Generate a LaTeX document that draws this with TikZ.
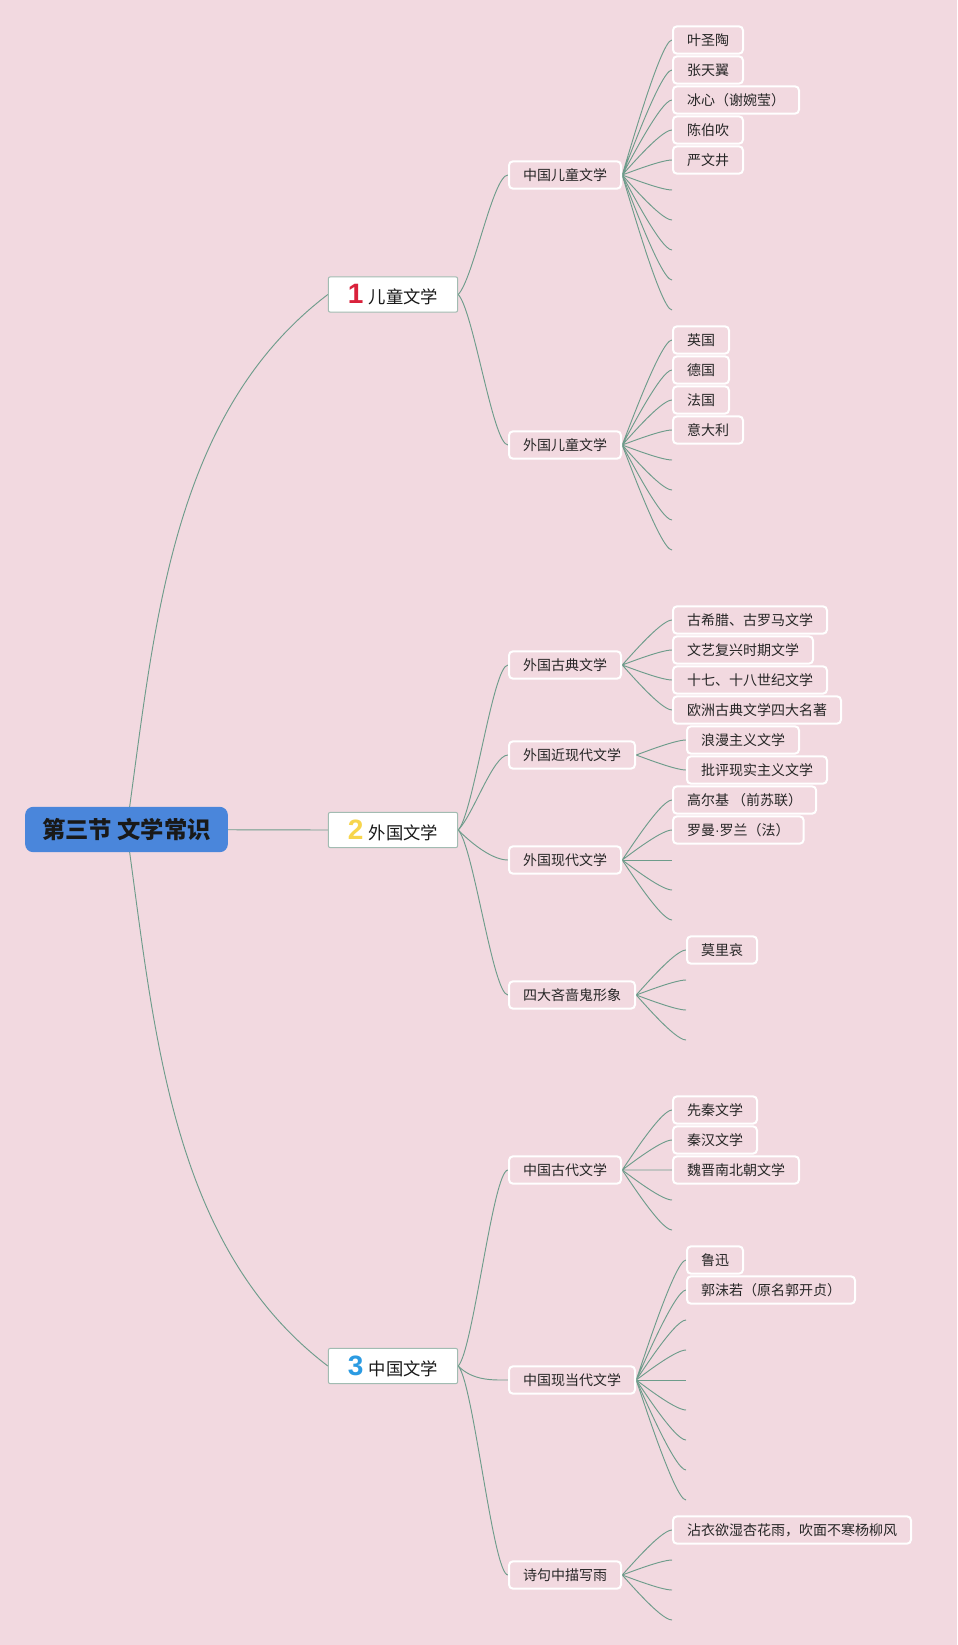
\documentclass[tikz,border=0pt]{standalone}
\usepackage{fontspec}
\setmainfont{Noto Sans CJK SC}
\newfontfamily\digitfont{Liberation Sans}
\usetikzlibrary{backgrounds}

\definecolor{bgpink}{HTML}{F2D9E0}
\definecolor{linkgreen}{HTML}{6E9C8B}
\definecolor{boxedge}{HTML}{A2BCB2}
\definecolor{rootblue}{HTML}{4A86DB}
\definecolor{numred}{HTML}{D9213B}
\definecolor{numyellow}{HTML}{F7D54C}
\definecolor{numblue}{HTML}{2B9BE2}

\newcommand{\topicnum}[2]{{\digitfont\bfseries\fontsize{21}{21}\selectfont\color{#1}#2}\hspace{4pt}}

\begin{document}
\begin{tikzpicture}[x=0.75pt, y=-0.75pt]
		% styles
		\tikzset{
			root/.style={fill=rootblue, rounded corners=6pt, minimum width=152pt, minimum height=34pt, inner sep=0pt, font=\fontsize{17.5}{20}\selectfont\bfseries, text=black!90},
			topic/.style={draw=boxedge, fill=white, line width=0.75pt, rounded corners=1.5pt, minimum width=97pt, minimum height=26.5pt, inner sep=0pt, font=\fontsize{13}{15}\selectfont, text=black!90},
			sub/.style={draw=white, fill=bgpink, line width=1.5pt, rounded corners=3pt, minimum height=20.5pt, inner xsep=10.5pt, inner ysep=0pt, anchor=west, font=\fontsize{10.5}{12}\selectfont, text=black!85},
			leaf/.style={sub},
			link/.style={draw=linkgreen, line width=0.7pt},
			limb/.style={link, to path={.. controls +(15,#1) and +(-15,0) .. (\tikztotarget)}},
			twig/.style={link, to path={.. controls +(1,0) and +(-12,0) .. (\tikztotarget)}}
		}

		% canvas
		\useasboundingbox (0,0) rectangle (957,1645);
		\begin{scope}[on background layer]
			\fill[bgpink] (0,0) rectangle (957,1645);
		\end{scope}

		% root and main topics
		\node[root] (root) at (126.5,829.5) {第三节 文学常识};
		\node[topic] (kids) at (393,294.5) {\topicnum{numred}{1}儿童文学};
		\node[topic] (foreign) at (393,830) {\topicnum{numyellow}{2}外国文学};
		\node[topic] (china) at (393,1366) {\topicnum{numblue}{3}中国文学};

		% subtopics
		\node[sub] (cnkids) at (508,175) {中国儿童文学};
		\node[sub] (fgkids) at (508,445) {外国儿童文学};
		\node[sub] (classic) at (508,665) {外国古典文学};
		\node[sub] (nearmod) at (508,755) {外国近现代文学};
		\node[sub] (modern) at (508,860) {外国现代文学};
		\node[sub] (misers) at (508,995) {四大吝啬鬼形象};
		\node[sub] (ancient) at (508,1170) {中国古代文学};
		\node[sub] (current) at (508,1380) {中国现当代文学};
		\node[sub] (rain) at (508,1575) {诗句中描写雨};

		% leaves: children's literature
		\node[leaf] (ye) at (672,40) {叶圣陶};
		\node[leaf] (zhang) at (672,70) {张天翼};
		\node[leaf] (bing) at (672,100) {冰心（谢婉莹）};
		\node[leaf] (chen) at (672,130) {陈伯吹};
		\node[leaf] (yan) at (672,160) {严文井};
		\node[leaf] (uk) at (672,340) {英国};
		\node[leaf] (de) at (672,370) {德国};
		\node[leaf] (fr) at (672,400) {法国};
		\node[leaf] (it) at (672,430) {意大利};

		% leaves: foreign literature
		\node[leaf] (greek) at (672,620) {古希腊、古罗马文学};
		\node[leaf] (renais) at (672,650) {文艺复兴时期文学};
		\node[leaf] (cent) at (672,680) {十七、十八世纪文学};
		\node[leaf] (four) at (672,710) {欧洲古典文学四大名著};
		\node[leaf] (roman) at (686,740) {浪漫主义文学};
		\node[leaf] (real) at (686,770) {批评现实主义文学};
		\node[leaf] (gorky) at (672,800) {高尔基 （前苏联）};
		\node[leaf] (rolland) at (672,830) {罗曼{\digitfont ·}罗兰（法）};
		\node[leaf] (moliere) at (686,950) {莫里哀};

		% leaves: chinese literature
		\node[leaf] (xianqin) at (672,1110) {先秦文学};
		\node[leaf] (qinhan) at (672,1140) {秦汉文学};
		\node[leaf] (weijin) at (672,1170) {魏晋南北朝文学};
		\node[leaf] (luxun) at (686,1260) {鲁迅};
		\node[leaf] (guo) at (686,1290) {郭沫若（原名郭开贞）};
		\node[leaf] (poem) at (672,1530) {沾衣欲湿杏花雨，吹面不寒杨柳风};

		% empty leaf ends
		\foreach \y [count=\i] in {190,220,250,280,310} \coordinate (cnx\i) at (672,\y);
		\foreach \y [count=\i] in {460,490,520,550} \coordinate (fgx\i) at (672,\y);
		\foreach \y [count=\i] in {860,890,920} \coordinate (modx\i) at (672,\y);
		\foreach \y [count=\i] in {980,1010,1040} \coordinate (misx\i) at (686,\y);
		\foreach \y [count=\i] in {1200,1230} \coordinate (ancx\i) at (672,\y);
		\foreach \y [count=\i] in {1320,1350,1380,1410,1440,1470,1500} \coordinate (curx\i) at (686,\y);
		\foreach \y [count=\i] in {1560,1590,1620} \coordinate (rainx\i) at (672,\y);

		% connections
		\begin{scope}[on background layer]
			\draw[link] (root.center) .. controls +(28,-198) and +(-159,121) .. (kids.west);
			\draw[link] (root.center) -- (foreign.west);
			\draw[link] (root.center) .. controls +(28,198) and +(-159,-121) .. (china.west);

			\draw[limb=-15] (kids.east) to (cnkids.west);
			\draw[limb=15] (kids.east) to (fgkids.west);
			\draw[limb=-15] (foreign.east) to (classic.west);
			\draw[limb=-15] (foreign.east) to (nearmod.west);
			\draw[limb=15] (foreign.east) to (modern.west);
			\draw[limb=15] (foreign.east) to (misers.west);
			\draw[limb=-15] (china.east) to (ancient.west);
			\draw[limb=15] (china.east) to (current.west);
			\draw[limb=15] (china.east) to (rain.west);

			\draw[twig] (cnkids.east) to (ye.west) (cnkids.east) to (zhang.west) (cnkids.east) to (bing.west)
				(cnkids.east) to (chen.west) (cnkids.east) to (yan.west);
			\foreach \i in {1,...,5} \draw[twig] (cnkids.east) to (cnx\i);
			\draw[twig] (fgkids.east) to (uk.west) (fgkids.east) to (de.west) (fgkids.east) to (fr.west)
				(fgkids.east) to (it.west);
			\foreach \i in {1,...,4} \draw[twig] (fgkids.east) to (fgx\i);

			\draw[twig] (classic.east) to (greek.west) (classic.east) to (renais.west) (classic.east) to (cent.west)
				(classic.east) to (four.west);
			\draw[twig] (nearmod.east) to (roman.west) (nearmod.east) to (real.west);
			\draw[twig] (modern.east) to (gorky.west) (modern.east) to (rolland.west);
			\foreach \i in {1,...,3} \draw[twig] (modern.east) to (modx\i);
			\draw[twig] (misers.east) to (moliere.west);
			\foreach \i in {1,...,3} \draw[twig] (misers.east) to (misx\i);

			\draw[twig] (ancient.east) to (xianqin.west) (ancient.east) to (qinhan.west) (ancient.east) to (weijin.west);
			\foreach \i in {1,2} \draw[twig] (ancient.east) to (ancx\i);
			\draw[twig] (current.east) to (luxun.west) (current.east) to (guo.west);
			\foreach \i in {1,...,7} \draw[twig] (current.east) to (curx\i);
			\draw[twig] (rain.east) to (poem.west);
			\foreach \i in {1,...,3} \draw[twig] (rain.east) to (rainx\i);
		\end{scope}

\end{tikzpicture}
\end{document}
